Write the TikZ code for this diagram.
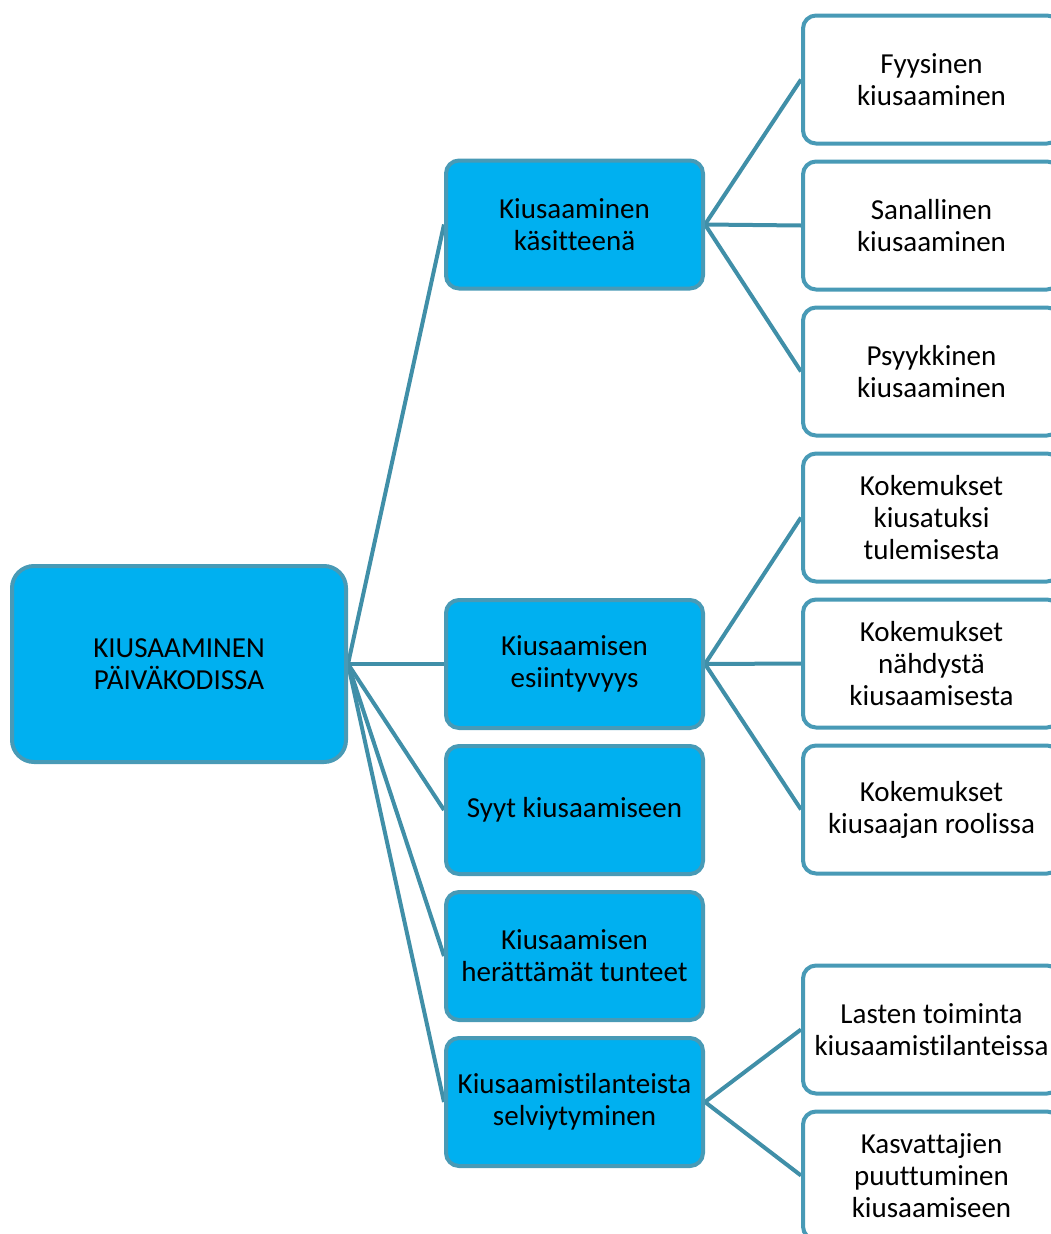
\documentclass[tikz,border=0pt]{standalone}
\usepackage{fontspec}
\setmainfont{Carlito}[Ligatures={NoCommon}]
\usetikzlibrary{backgrounds}
\definecolor{edgeblue}{RGB}{72,154,182}
\definecolor{linkblue}{RGB}{64,143,168}
\definecolor{fillblue}{RGB}{0,176,240}
\tikzset{
  base/.style={draw=edgeblue, line width=4pt, align=center, text=black,
    font=\fontsize{29}{32}\selectfont, inner sep=0pt},
  rootbox/.style={base, fill=fillblue, minimum width=334pt, minimum height=196pt, rounded corners=22pt},
  midbox/.style={base, fill=fillblue, minimum width=257pt, minimum height=128pt, rounded corners=13pt},
  leafbox/.style={base, fill=white, minimum width=257pt, minimum height=128pt, rounded corners=13pt},
  link/.style={draw=linkblue, line width=4pt}
}
\begin{document}
\begin{tikzpicture}[x=1pt,y=-1pt]
\useasboundingbox (0,0) rectangle (1051,1234);
\clip (0,0) rectangle (1051,1234);
\node[rootbox] (root) at (179,664) {KIUSAAMINEN\\PÄIVÄKODISSA};
\node[midbox] (m1) at (574.5,224.5) {Kiusaaminen\\käsitteenä};
\node[midbox] (m2) at (574.5,664) {Kiusaamisen\\esiintyvyys};
\node[midbox] (m3) at (574.5,810) {Syyt kiusaamiseen};
\node[midbox] (m4) at (574.5,956) {Kiusaamisen\\herättämät tunteet};
\node[midbox] (m5) at (574.5,1102) {Kiusaamistilanteista\\selviytyminen};
\node[leafbox] (l1) at (931.5,79.5) {Fyysinen\\kiusaaminen};
\node[leafbox] (l2) at (931.5,225.5) {Sanallinen\\kiusaaminen};
\node[leafbox] (l3) at (931.5,371.5) {Psyykkinen\\kiusaaminen};
\node[leafbox] (l4) at (931.5,517.5) {Kokemukset\\kiusatuksi\\tulemisesta};
\node[leafbox] (l5) at (931.5,663.5) {Kokemukset\\nähdystä\\kiusaamisesta};
\node[leafbox] (l6) at (931.5,809.5) {Kokemukset\\kiusaajan roolissa};
\node[leafbox] (l7) at (931.5,1029.5) {Lasten toiminta\\kiusaamistilanteissa};
\node[leafbox] (l8) at (931.5,1175.5) {Kasvattajien\\puuttuminen\\kiusaamiseen};
\begin{scope}[on background layer]
\foreach \m in {m1,m2,m3,m4,m5} \draw[link] (root.east) -- (\m.west);
\foreach \l in {l1,l2,l3} \draw[link] (m1.east) -- (\l.west);
\foreach \l in {l4,l5,l6} \draw[link] (m2.east) -- (\l.west);
\foreach \l in {l7,l8} \draw[link] (m5.east) -- (\l.west);
\end{scope}
\end{tikzpicture}
\end{document}
